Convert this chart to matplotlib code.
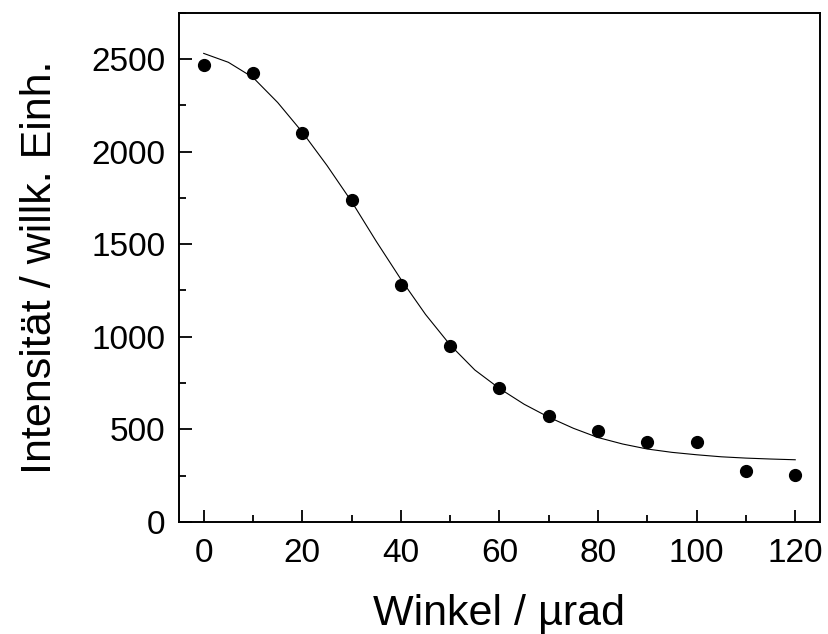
import matplotlib
matplotlib.use('Agg')
import matplotlib.pyplot as plt
from matplotlib.ticker import MultipleLocator

plt.rcParams['font.family'] = ['Liberation Sans', 'DejaVu Sans']

# measured points
winkel = [0, 10, 20, 30, 40, 50, 60, 70, 80, 90, 100, 110, 120]
intensitaet = [2468, 2422, 2099, 1740, 1280, 948, 725, 574, 492, 431, 431, 275, 254]

# fit curve
fit_x = [0, 5, 10, 15, 20, 25, 30, 35, 40, 45, 50, 55, 60,
         65, 70, 75, 80, 85, 90, 95, 100, 105, 110, 115, 120]
fit_y = [2530, 2482, 2400, 2265, 2105, 1925, 1730, 1515, 1310, 1120, 955, 820, 720,
         635, 565, 505, 455, 420, 393, 375, 362, 351, 344, 339, 335]

fig = plt.figure(figsize=(8.29, 6.34), dpi=100)
ax = fig.add_axes([0.216, 0.177, 0.773, 0.803])

ax.plot(fit_x, fit_y, color='black', lw=0.8)
ax.plot(winkel, intensitaet, 'o', color='black', ms=8.5)

ax.set_xlim(-5, 125)
ax.set_ylim(0, 2750)
ax.xaxis.set_major_locator(MultipleLocator(20))
ax.xaxis.set_minor_locator(MultipleLocator(10))
ax.yaxis.set_major_locator(MultipleLocator(500))
ax.yaxis.set_minor_locator(MultipleLocator(250))

ax.tick_params(which='both', direction='in', width=1.3, labelsize=24)
ax.tick_params(which='major', length=9)
ax.tick_params(which='minor', length=5)
ax.tick_params(axis='x', pad=12)
ax.tick_params(axis='y', pad=10)
for s in ax.spines.values():
    s.set_linewidth(1.4)

ax.set_xlabel('Winkel / µrad', fontsize=31, labelpad=18)
ax.set_ylabel('Intensität / willk. Einh.', fontsize=31, labelpad=22)

fig.savefig('out.png', dpi=100)
